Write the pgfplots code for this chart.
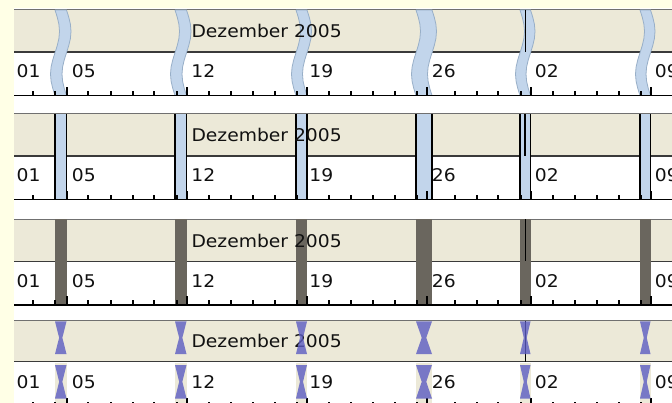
\documentclass[border=0pt]{standalone}
\usepackage{fontspec}
\setmainfont{DejaVu Sans}[FakeStretch=1.07]
\usepackage{pgfplots}
\usepackage{pgfplotstable}
\pgfplotsset{compat=1.18}

\definecolor{bgyellow}{HTML}{FFFFE6}
\definecolor{beige}{HTML}{ECE9D8}
\definecolor{bandblue}{HTML}{C2D5EB}
\definecolor{bandedge}{HTML}{98AFC8}
\definecolor{bandgray}{HTML}{6A665E}
\definecolor{bowcol}{HTML}{5C5CC2}
\definecolor{topline}{HTML}{707070}
\definecolor{midline}{HTML}{3A3A3A}
\definecolor{txt}{HTML}{111111}

% tick positions (px); y column is a dummy offset
\pgfplotstableread{
x y
33 0
55 0
88 0
111 0
133 0
154 0
177 0
209 0
231 0
253 0
275 0
297 0
329 0
351 0
373 0
395 0
417 0
455 0
477 0
498 0
521 0
553 0
575 0
597 0
619 0
641 0
}\minorticks
\pgfplotstableread{
x y
67 0
187 0
307 0
427 0
531 0
651 0
}\majorticks

% wavy break band (f=0 left edge, f=1 right edge)
\pgfplotstableread{
f dy d
0 0 0
0 7.125 2.25
0 14.25 3.9
0 21.375 4.5
0 28.5 3.9
0 35.625 2.25
0 42.75 0
0 49.875 -2.25
0 57 -3.9
0 64.125 -4.5
0 71.25 -3.9
0 78.375 -2.25
0 85.5 0
1 85.5 0
1 78.375 -2.25
1 71.25 -3.9
1 64.125 -4.5
1 57 -3.9
1 49.875 -2.25
1 42.75 0
1 35.625 2.25
1 28.5 3.9
1 21.375 4.5
1 14.25 3.9
1 7.125 2.25
1 0 0
0 0 0
}\wave

% hourglass break (relative coordinates)
\pgfplotstableread{
fx fy
0 0
1 0
0.82 0.25
0.64 0.5
0.82 0.75
1 1
0 1
0.18 0.75
0.36 0.5
0.18 0.25
0 0
}\bow

\newcommand{\rectfill}[5]{\addplot[fill=#5, draw=none] coordinates {(#1,#2) (#3,#2) (#3,#4) (#1,#4)};}
\newcommand{\vseg}[4]{\addplot[#4] coordinates {(#1,#2) (#1,#3)};}
\newcommand{\rowbase}[2]{%
  \rectfill{14}{#1}{672}{#2}{beige}
  \addplot[topline, line width=1pt] coordinates {(14,#1) (672,#1)};
  \addplot[midline, line width=1.6pt] coordinates {(14,#2) (672,#2)};
}
\newcommand{\axisline}[1]{%
  \addplot[black, line width=1.5pt] coordinates {(14,#1) (672,#1)};
  \addplot[black, line width=1.2pt, quiver={u=0,v=-4.5}] table[x=x, y expr=\thisrow{y}+#1] {\minorticks};
  \addplot[black, line width=1.3pt, quiver={u=0,v=-8.5}] table[x=x, y expr=\thisrow{y}+#1] {\majorticks};
}
\tikzset{lbl/.style={anchor=base west, inner sep=0pt, text=txt, font=\fontsize{17.5}{20}\selectfont}}
\newcommand{\labels}[2]{%
  \node[lbl] at (axis cs:191.3,#1) {Dezember 2005};
  \node[lbl] at (axis cs:16.5,#2) {01};
  \node[lbl] at (axis cs:71.7,#2) {05};
  \node[lbl] at (axis cs:191.2,#2) {12};
  \node[lbl] at (axis cs:309.2,#2) {19};
  \node[lbl] at (axis cs:431.7,#2) {26};
  \node[lbl] at (axis cs:534.7,#2) {02};
  \node[lbl] at (axis cs:654.7,#2) {09};
}
\newcommand{\wavebreak}[3]{\addplot[fill=bandblue, draw=bandedge, line width=0.8pt] table[x expr=#1+\thisrow{d}+\thisrow{f}*(#2-#1), y expr=#3+\thisrow{dy}] {\wave};}
\newcommand{\rectbreak}[4]{%
  \rectfill{#1}{#3}{#2}{#4}{bandblue}
  \vseg{#1}{#3}{#4}{black, line width=1.3pt}
  \vseg{#2}{#3}{#4}{black, line width=1.3pt}
}
\newcommand{\graybreak}[4]{\rectfill{#1}{#3}{#2}{#4}{bandgray}}
\newcommand{\bowshape}[4]{\addplot[fill=bowcol, draw=none, fill opacity=0.8] table[x expr=#1+\thisrow{fx}*(#2-#1), y expr=#3+\thisrow{fy}*(#4-#3)] {\bow};}

\begin{document}
\begin{tikzpicture}
\begin{axis}[name=ax, scale only axis, width=672pt, height=403pt,
  xmin=0, xmax=672, ymin=0, ymax=403, y dir=reverse, hide axis, clip=true]
% background
\rectfill{0}{0}{672}{403}{bgyellow}
\rectfill{14}{8.5}{672}{403}{white}

% ---------- panel 1: wavy breaks ----------
\rowbase{10}{52}
\wavebreak{55}{66.5}{10}
\wavebreak{175}{186.5}{10}
\wavebreak{296}{307}{10}
\wavebreak{416}{432}{10}
\wavebreak{520}{530.5}{10}
\wavebreak{640}{650.5}{10}
\vseg{525.5}{10}{52}{black, line width=1.3pt}
\axisline{95.5}
\labels{38}{78}

% ---------- panel 2: rectangular breaks ----------
\rowbase{114}{156}
\rectbreak{55}{66.5}{114}{199.5}
\rectbreak{175}{186.5}{114}{199.5}
\rectbreak{296}{307}{114}{199.5}
\rectbreak{416}{432}{114}{199.5}
\rectbreak{520}{530.5}{114}{199.5}
\rectbreak{640}{650.5}{114}{199.5}
\vseg{525}{114}{156}{black, line width=1.3pt}
\axisline{199.5}
\labels{142}{182}

% ---------- panel 3: solid gray breaks ----------
\rowbase{219.5}{261.5}
\graybreak{55}{66.5}{219.5}{305}
\graybreak{175}{186.5}{219.5}{305}
\graybreak{296}{307}{219.5}{305}
\graybreak{416}{432}{219.5}{305}
\graybreak{520}{530.5}{219.5}{305}
\graybreak{640}{650.5}{219.5}{305}
\vseg{525.5}{219.5}{261.5}{black, line width=1.3pt}
\axisline{305}
\labels{247.5}{287.5}

% ---------- panel 4: hourglass breaks ----------
\rowbase{321}{361.5}
\rectfill{55}{362.5}{66.5}{406}{beige}
\rectfill{175}{362.5}{186.5}{406}{beige}
\rectfill{296}{362.5}{307}{406}{beige}
\rectfill{416}{362.5}{432}{406}{beige}
\rectfill{520}{362.5}{530.5}{406}{beige}
\rectfill{640}{362.5}{650.5}{406}{beige}
\vseg{525.5}{321}{361.5}{black, line width=1.3pt}
\axisline{406}
\labels{348}{388}
\bowshape{55}{66.5}{321.5}{354}
\bowshape{175}{186.5}{321.5}{354}
\bowshape{296}{307}{321.5}{354}
\bowshape{416}{432}{321.5}{354}
\bowshape{520}{530.5}{321.5}{354}
\bowshape{640}{650.5}{321.5}{354}
\bowshape{55}{66.5}{365}{398.5}
\bowshape{175}{186.5}{365}{398.5}
\bowshape{296}{307}{365}{398.5}
\bowshape{416}{432}{365}{398.5}
\bowshape{520}{530.5}{365}{398.5}
\bowshape{640}{650.5}{365}{398.5}
\end{axis}
\pgfresetboundingbox
\useasboundingbox (ax.south west) rectangle (ax.north east);
\end{tikzpicture}
\end{document}
